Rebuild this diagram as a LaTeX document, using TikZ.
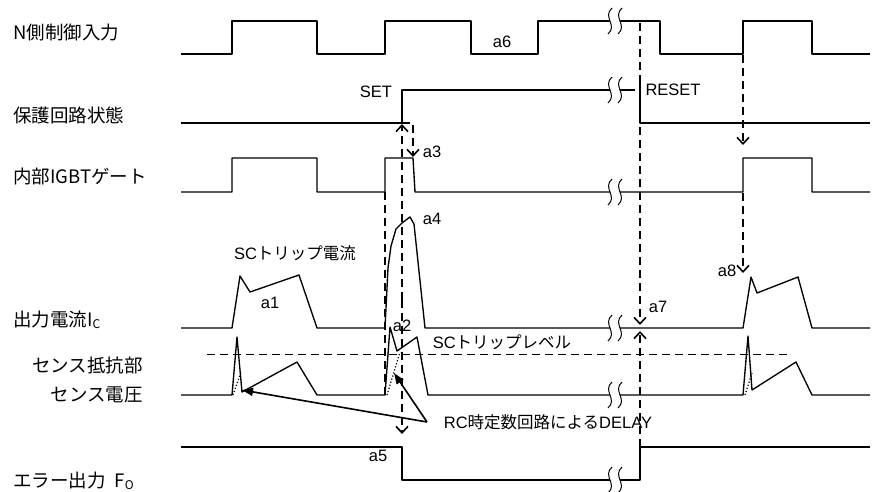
\documentclass[tikz,border=0pt]{standalone}
\usepackage{fontspec}
\setmainfont{Liberation Sans}
\newfontfamily\jp{Noto Sans CJK JP}
\usetikzlibrary{arrows.meta}

\tikzset{
  wave/.style={line width=1.35pt, line join=round},
  lvl/.style={dash pattern=on 8pt off 5pt, line width=1pt},
  dline/.style={dash pattern=on 8pt off 5pt, line width=1.6pt},
  barb/.style={-{Straight Barb[length=6.5pt,width=12pt,line width=1.6pt]}},
  hint/.style={line width=1.6pt, -{Triangle[length=11pt,width=8pt]}},
  lbl/.style={inner sep=0pt, font=\jp\fontsize{18.5}{21}\selectfont},
  tag/.style={inner sep=0pt, font=\fontsize{16.5}{18}\selectfont},
}
\newcommand\brkmark[2]{%
  \fill[white] (#1+2,#2-13) .. controls (#1-8,#2-4) and (#1+8,#2+4) .. (#1-2,#2+13)
    -- (#1+8,#2+13) .. controls (#1+18,#2+4) and (#1+2,#2-4) .. (#1+12,#2-13) -- cycle;
  \draw[line width=1pt] (#1+2,#2-13) .. controls (#1-8,#2-4) and (#1+8,#2+4) .. (#1-2,#2+13);
  \draw[line width=1pt] (#1+12,#2-13) .. controls (#1+2,#2-4) and (#1+18,#2+4) .. (#1+8,#2+13);
}

\begin{document}
\begin{tikzpicture}[x=1pt,y=-1pt]
  \useasboundingbox (0,0) rectangle (872,491);

  \node[lbl,anchor=west] (nin) at (13,32) {N側制御入力};
  \node[lbl,anchor=west] (prot) at (13,115) {保護回路状態};
  \node[lbl,anchor=west] (gate) at (13,176) {内部IGBTゲート};
  \node[lbl,anchor=west] (ic) at (13,320) {出力電流I\raisebox{-2pt}{\fontsize{12}{12}\selectfont C}};
  \node[lbl,anchor=east] (sense) at (143,365) {センス抵抗部};
  \node[lbl,anchor=east] (sensev) at (143,395) {センス電圧};
  \node[lbl,anchor=west] (fo) at (13,481) {エラー出力\hspace{9pt}F\raisebox{-2pt}{\fontsize{12}{12}\selectfont O}};

  \draw[wave] (181,54) -- (232,54) -- (232,21) -- (317,21) -- (317,54) -- (385,54) -- (385,21)
    -- (471,21) -- (471,54) -- (538,54) -- (538,21) -- (660,21) -- (660,54) -- (743,54)
    -- (743,21) -- (812,21) -- (812,54) -- (870,54);
  \brkmark{610}{21}

  \draw[wave] (181,123) -- (402,123) -- (402,90) -- (635,90);
  \draw[wave] (640,82) -- (640,123) -- (870,123);
  \brkmark{610}{90}

  \draw[wave] (181,192) -- (232,192) -- (232,158) -- (317,158) -- (317,192) -- (385,192)
    -- (385,158) -- (413,158) -- (415,192) -- (743,192) -- (743,158) -- (812,158)
    -- (812,192) -- (870,192);
  \brkmark{610}{192}

  \draw[wave] (181,328) -- (232,328) -- (240,276) -- (250,292) -- (299,275) -- (317,328)
    -- (385,328) -- (388,268) -- (391,246) -- (396,229) -- (402,223) -- (410,217)
    -- (414,224) -- (425,328) -- (743,328) -- (751,277) -- (757,293) -- (798,277)
    -- (812,328) -- (870,328);
  \brkmark{610}{328}

  \draw[lvl] (207,354) -- (790,354);
  \draw[wave] (181,395) -- (232,395) -- (237,337) -- (242,392) -- (297,362) -- (317,395)
    -- (385,395) -- (390,327) -- (397,351) -- (417,337) -- (428,395) -- (743,395)
    -- (748,336) -- (752,390) -- (796,362) -- (812,395) -- (870,395);
  \draw[dotted, line width=1.2pt] (233,395) -- (241,372);
  \draw[dotted, line width=1.2pt] (387,395) -- (400,352);
  \draw[dotted, line width=1.2pt] (745,395) -- (752,373);
  \brkmark{610}{395}

  \draw[wave] (181,447) -- (402,447) -- (402,480) -- (640,480) -- (640,447) -- (870,447);
  \brkmark{610}{480}

  \draw[dline] (385,192) -- (385,395);
  \draw[dline,barb] (402,300) -- (402,124);
  \draw[dline,barb] (402,300) -- (402,434);
  \draw[dline,barb] (402,123) -- (413,123) -- (413,157);
  \draw[dline,barb] (640,23) -- (640,325);
  \draw[dline,barb] (640,447) -- (640,331);
  \draw[dline,barb] (743,55) -- (743,145);
  \draw[dline,barb] (743,193) -- (743,273);

  \node[tag] (rc) at (548,422) {RC{\jp 時定数回路による}DELAY};
  \coordinate (rcw) at (427,422);
  \coordinate (dly1) at (242,390);
  \coordinate (dly2) at (394,373);
  \draw[hint] (rcw) -- (dly1);
  \draw[hint] (rcw) -- (dly2);

  \node[tag] (set) at (376,92) {SET};
  \node[tag] (reset) at (673,90) {RESET};
  \node[tag] (sctrip) at (295,253) {SC{\jp トリップ電流}};
  \node[tag] (sclvl) at (502,342) {SC{\jp トリップレベル}};
  \node[tag] (a1) at (270,303) {a1};
  \node[tag] (a2) at (402,326) {a2};
  \node[tag] (a3) at (432,152) {a3};
  \node[tag] (a4) at (432,219) {a4};
  \node[tag] (a5) at (378,456) {a5};
  \node[tag] (a6) at (502,42) {a6};
  \node[tag] (a7) at (658,307) {a7};
  \node[tag] (a8) at (727,271) {a8};
\end{tikzpicture}
\end{document}
